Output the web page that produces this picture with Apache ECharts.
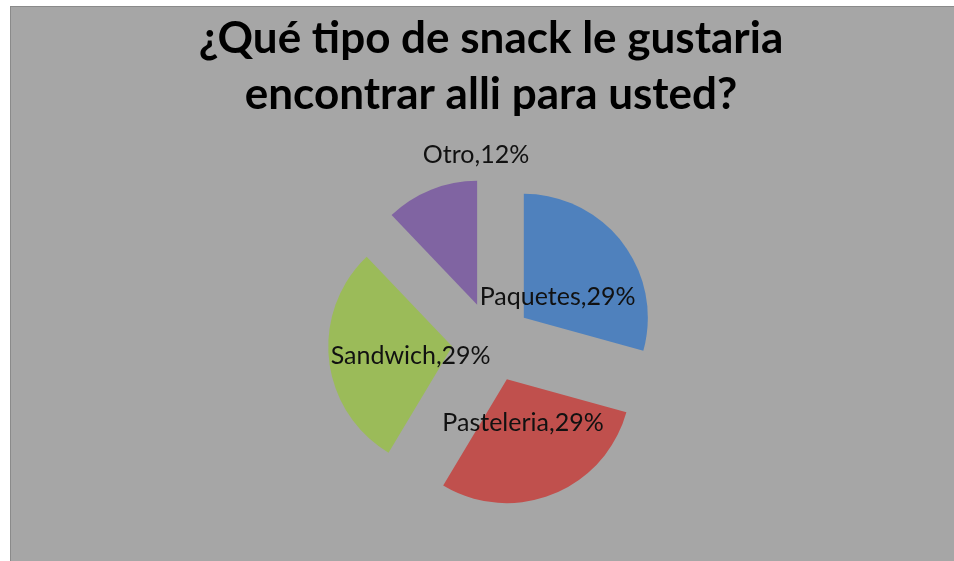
<!DOCTYPE html>
<html>
<head>
<meta charset="utf-8">
<script src="https://cdn.jsdelivr.net/npm/echarts@6/dist/echarts.min.js"></script>
<style>
html, body { margin: 0; padding: 0; background: #ffffff; overflow: hidden; }
.box {
  position: absolute;
  left: 10px;
  top: 6px;
  width: 960px;
  height: 560px;
  background: #a6a6a6;
  border-left: 1px solid #8a8a8a;
  border-top: 1px solid #8a8a8a;
}
#chart { width: 100%; height: 100%; }
</style>
</head>
<body>
<div class="box"><div id="chart"></div></div>
<script>
// datos del grafico
var titleText = '¿Qué tipo de snack le gustaria\nencontrar alli para usted?';
var categories = ['Paquetes', 'Pasteleria', 'Sandwich', 'Otro'];
var percents = [29, 29, 29, 12];
var colors = ['#4f81bd', '#c0504d', '#9bbb59', '#8064a2'];

// desplazamiento de cada etiqueta (como en el original de Excel)
var labelShift = [[-18, 19], [-8, -17], [23, 2], [23, -90]];

var chart = echarts.init(document.getElementById('chart'), null, { renderer: 'canvas' });

var pieData = categories.map(function (name, i) {
  return {
    name: name,
    value: percents[i],
    selected: true,
    itemStyle: { color: colors[i] }
  };
});

var option = {
  animation: false,
  title: {
    text: titleText,
    left: 'center',
    top: -1,
    textStyle: {
      fontFamily: 'Lato',
      fontWeight: 'bold',
      fontSize: 44,
      lineHeight: 56,
      color: '#000000'
    }
  },
  series: [
    {
      type: 'pie',
      center: [481, 335],
      radius: 124,
      startAngle: 90,
      clockwise: true,
      selectedMode: 'multiple',
      selectedOffset: 40,
      emphasis: { scale: false },
      label: {
        show: true,
        position: 'inside',
        formatter: '{b},{c}%',
        fontFamily: 'Lato',
        fontSize: 25,
        color: '#111111'
      },
      labelLine: { show: false },
      labelLayout: function (params) {
        var s = labelShift[params.dataIndex];
        return { dx: s[0], dy: s[1] };
      },
      data: pieData
    }
  ]
};

chart.setOption(option);
</script>
</body>
</html>
